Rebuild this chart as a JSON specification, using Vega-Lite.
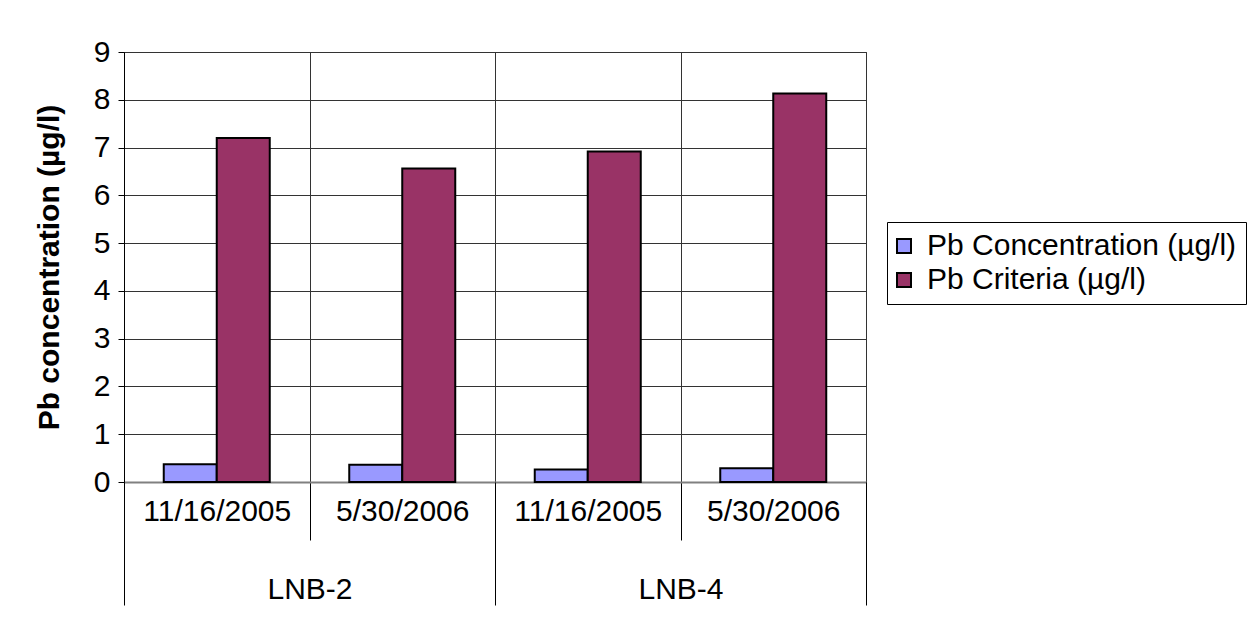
{
  "$schema": "https://vega.github.io/schema/vega-lite/v6.json",
  "width": 742,
  "height": 430,
  "autosize": "none",
  "padding": {"left": 124, "top": 52, "right": 389, "bottom": 150},
  "background": "white",
  "config": {
    "font": "Liberation Sans",
    "view": {"stroke": "#333", "strokeWidth": 1},
    "axis": {"labelColor": "black", "titleColor": "black", "labelFontSize": 30, "titleFontSize": 30}
  },
  "data": {
    "values": [
      {"site": "LNB-2", "date": "11/16/2005", "key": "LNB-2|11/16/2005", "series": "Pb Concentration (µg/l)", "value": 0.37},
      {"site": "LNB-2", "date": "11/16/2005", "key": "LNB-2|11/16/2005", "series": "Pb Criteria (µg/l)", "value": 7.2},
      {"site": "LNB-2", "date": "5/30/2006", "key": "LNB-2|5/30/2006", "series": "Pb Concentration (µg/l)", "value": 0.36},
      {"site": "LNB-2", "date": "5/30/2006", "key": "LNB-2|5/30/2006", "series": "Pb Criteria (µg/l)", "value": 6.56},
      {"site": "LNB-4", "date": "11/16/2005", "key": "LNB-4|11/16/2005", "series": "Pb Concentration (µg/l)", "value": 0.26},
      {"site": "LNB-4", "date": "11/16/2005", "key": "LNB-4|11/16/2005", "series": "Pb Criteria (µg/l)", "value": 6.92},
      {"site": "LNB-4", "date": "5/30/2006", "key": "LNB-4|5/30/2006", "series": "Pb Concentration (µg/l)", "value": 0.29},
      {"site": "LNB-4", "date": "5/30/2006", "key": "LNB-4|5/30/2006", "series": "Pb Criteria (µg/l)", "value": 8.13}
    ]
  },
  "layer": [
    {
      "mark": {"type": "bar", "stroke": "black", "strokeWidth": 2},
      "encoding": {
        "x": {
          "field": "key", "type": "nominal", "sort": null,
          "scale": {"paddingInner": 0, "paddingOuter": 0},
          "axis": {
            "title": null, "orient": "bottom",
            "labelExpr": "split(datum.value, '|')[1]",
            "labelAngle": 0, "labelOverlap": false, "labelBound": false,
            "tickBand": "extent", "tickSize": 58, "tickColor": "black", "tickWidth": 1,
            "grid": true, "gridColor": "#333", "gridWidth": 1,
            "domainColor": "#808080", "domainWidth": 2,
            "labelPadding": -44
          }
        },
        "xOffset": {
          "field": "series", "type": "nominal",
          "scale": {"paddingInner": 0, "paddingOuter": 0.75}
        },
        "y": {
          "field": "value", "type": "quantitative",
          "scale": {"domain": [0, 9], "nice": false},
          "axis": {
            "title": "Pb concentration (µg/l)", "titleFontWeight": "bold", "titlePadding": 29,
            "values": [0, 1, 2, 3, 4, 5, 6, 7, 8, 9],
            "tickSize": 6, "tickColor": "black", "labelPadding": 8,
            "domainColor": "black", "domainWidth": 1,
            "grid": true, "gridColor": "#333", "gridWidth": 1
          }
        },
        "fill": {
          "field": "series", "type": "nominal",
          "scale": {"domain": ["Pb Concentration (µg/l)", "Pb Criteria (µg/l)"], "range": ["#9999FF", "#993366"]},
          "legend": {
            "title": null, "orient": "none", "legendX": 763, "legendY": 170,
            "strokeColor": "black", "fillColor": "white", "padding": 9,
            "symbolType": "square", "symbolSize": 196, "symbolStrokeColor": "black", "symbolStrokeWidth": 2,
            "symbolOffset": -7,
            "labelFontSize": 30, "labelColor": "black", "labelOffset": 8, "rowPadding": 4, "labelLimit": 500
          }
        }
      }
    },
    {
      "mark": {"type": "point", "opacity": 0},
      "encoding": {
        "x": {
          "field": "site", "type": "nominal",
          "scale": {"paddingInner": 0, "paddingOuter": 0},
          "axis": {
            "title": null, "orient": "bottom", "labelAngle": 0,
            "tickBand": "extent", "tickSize": 123, "tickColor": "black", "tickWidth": 1,
            "grid": false, "domain": false, "labelPadding": -31
          }
        },
        "y": {"field": "value", "type": "quantitative"}
      }
    }
  ],
  "resolve": {"scale": {"x": "independent"}, "axis": {"x": "independent"}}
}
